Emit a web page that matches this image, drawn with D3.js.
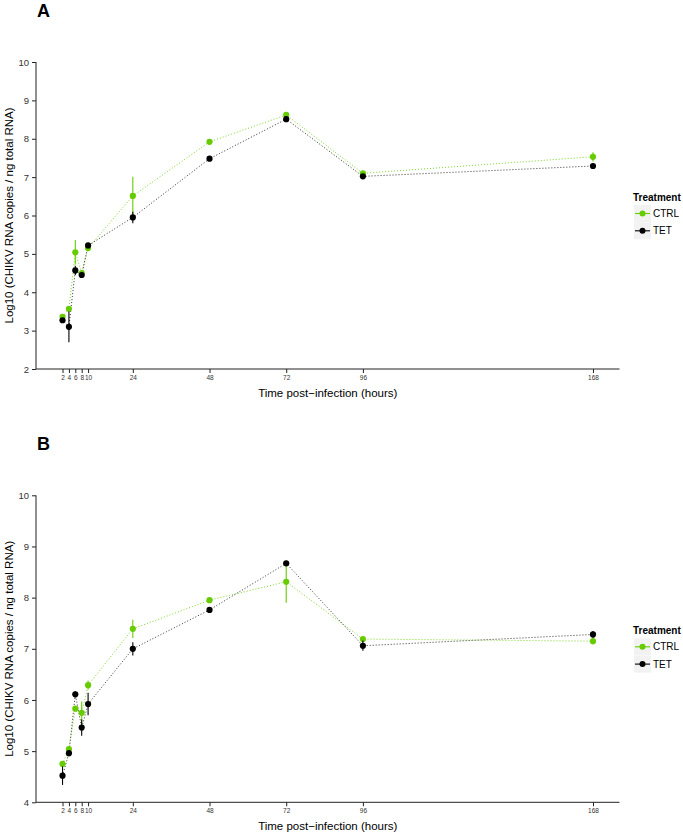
<!DOCTYPE html>
<html>
<head>
<meta charset="utf-8">
<script src="https://cdn.jsdelivr.net/npm/d3@7"></script>
<style>
  body { margin: 0; background: #fff; }
  svg { display: block; font-family: "Liberation Sans", Arial, Helvetica, sans-serif; }
</style>
</head>
<body>
<svg id="chart" width="683" height="839"></svg>
<script>
// ---- data ----
const hours = [2, 4, 6, 8, 10, 24, 48, 72, 96, 168];
const xTicks = [2, 4, 6, 8, 10, 24, 48, 72, 96, 168];
const groups = ["CTRL", "TET"];
const colors = ["#66CC00", "#000000"];

const aCtrl    = [3.36, 3.57, 5.04, 4.50, 5.15, 6.51, 7.92, 8.62, 7.10, 7.53];
const aCtrlErr = [0.04, 0.05, 0.32, 0.05, 0.05, 0.50, 0.04, 0.04, 0.05, 0.12];
const aTet     = [3.27, 3.10, 4.57, 4.45, 5.22, 5.95, 7.48, 8.51, 7.02, 7.29];
const aTetErr  = [0.05, 0.40, 0.12, 0.08, 0.06, 0.15, 0.04, 0.04, 0.06, 0.04];

const bCtrl    = [4.75, 5.04, 5.83, 5.75, 6.29, 7.39, 7.95, 8.31, 7.19, 7.15];
const bCtrlErr = [0.04, 0.05, 0.04, 0.22, 0.09, 0.18, 0.04, 0.41, 0.04, 0.06];
const bTet     = [4.52, 4.96, 6.11, 5.46, 5.92, 7.00, 7.76, 8.67, 7.06, 7.28];
const bTetErr  = [0.18, 0.06, 0.06, 0.16, 0.22, 0.13, 0.03, 0.03, 0.10, 0.07];

const aYTicks = [2, 3, 4, 5, 6, 7, 8, 9, 10];
const bYTicks = [4, 5, 6, 7, 8, 9, 10];

const xTitle = "Time post\u2212infection (hours)";
const yTitle = "Log10 (CHIKV RNA copies / ng total RNA)";
const legendTitle = "Treatment";

// ---- drawing ----
const svg = d3.select("#chart");
const xLeft = 36, xRight = 619.5;
const xPad = (168 - 2) * 0.05;
const x = d3.scaleLinear().domain([2 - xPad, 168 + xPad]).range([xLeft, xRight]);

function panel(letter, top, bottom, yDomain, yTicks, series) {
  const g = svg.append("g");
  const y = d3.scaleLinear().domain(yDomain).range([bottom, top]);

  g.append("text").attr("x", 37).attr("y", top - 45)
    .attr("font-size", 18).attr("font-weight", "bold").attr("fill", "#000").text(letter);

  // axes
  const yAxis = d3.axisLeft(y).tickValues(yTicks).tickSize(4).tickPadding(3).tickFormat(d3.format("d"));
  const ya = g.append("g").attr("transform", `translate(${xLeft},0)`).call(yAxis);
  ya.select(".domain").attr("stroke", "#222").attr("d", `M0,${bottom}V${top}`);
  ya.selectAll(".tick line").attr("stroke", "#222");
  ya.selectAll(".tick text").attr("font-size", 9.5).attr("fill", "#333")
    .attr("font-family", "'Liberation Sans', Arial, sans-serif");

  const xAxis = d3.axisBottom(x).tickValues(xTicks).tickSize(4).tickPadding(2).tickFormat(d3.format("d"));
  const xa = g.append("g").attr("transform", `translate(0,${bottom})`).call(xAxis);
  xa.select(".domain").attr("stroke", "#222").attr("d", `M${xLeft},0H${xRight}`);
  xa.selectAll(".tick line").attr("stroke", "#222");
  xa.selectAll(".tick text").attr("font-size", 6.5).attr("fill", "#333")
    .attr("font-family", "'Liberation Sans', Arial, sans-serif");

  // titles
  g.append("text").attr("x", (xLeft + xRight) / 2).attr("y", bottom + 28)
    .attr("text-anchor", "middle").attr("font-size", 11.5).attr("fill", "#000").text(xTitle);
  g.append("text")
    .attr("transform", `translate(13,${(top + bottom) / 2}) rotate(-90)`)
    .attr("text-anchor", "middle").attr("font-size", 11.5).attr("fill", "#000").text(yTitle);

  // series
  series.forEach((s, i) => {
    const pts = hours.map((h, k) => ({ h, v: s.vals[k], e: s.errs[k] }));
    const line = d3.line().x(d => x(d.h)).y(d => y(d.v));
    g.append("path").datum(pts).attr("d", line).attr("fill", "none")
      .attr("stroke", colors[i]).attr("stroke-width", 1).attr("stroke-dasharray", "1,2")
      .attr("opacity", i === 0 ? 0.85 : 0.8);
  });
  series.forEach((s, i) => {
    const pts = hours.map((h, k) => ({ h, v: s.vals[k], e: s.errs[k] }));
    g.selectAll(null).data(pts).enter().append("line")
      .attr("x1", d => x(d.h)).attr("x2", d => x(d.h))
      .attr("y1", d => y(d.v - d.e)).attr("y2", d => y(d.v + d.e))
      .attr("stroke", colors[i]).attr("stroke-width", 1.1);
    g.selectAll(null).data(pts).enter().append("circle")
      .attr("cx", d => x(d.h)).attr("cy", d => y(d.v)).attr("r", 3.1)
      .attr("fill", colors[i]);
  });

  // legend
  const ly = (top + bottom) / 2 - 18;
  g.append("text").attr("x", 633).attr("y", ly + 3.5)
    .attr("font-size", 10).attr("font-weight", "bold").attr("fill", "#000").text(legendTitle);
  groups.forEach((name, i) => {
    const cy = ly + 16 + i * 17.3;
    g.append("rect").attr("x", 634).attr("y", cy - 8.5).attr("width", 17).attr("height", 17)
      .attr("fill", "#F2F2F2");
    g.append("line").attr("x1", 635).attr("x2", 650).attr("y1", cy).attr("y2", cy)
      .attr("stroke", colors[i]).attr("stroke-width", 1.1);
    g.append("circle").attr("cx", 642.5).attr("cy", cy).attr("r", 3).attr("fill", colors[i]);
    g.append("text").attr("x", 653).attr("y", cy + 3.5).attr("font-size", 10)
      .attr("fill", "#000").text(name);
  });
}

panel("A", 62, 369, [2, 10], aYTicks, [
  { vals: aCtrl, errs: aCtrlErr },
  { vals: aTet, errs: aTetErr }
]);
panel("B", 495.3, 802.3, [4, 10], bYTicks, [
  { vals: bCtrl, errs: bCtrlErr },
  { vals: bTet, errs: bTetErr }
]);
</script>
</body>
</html>
